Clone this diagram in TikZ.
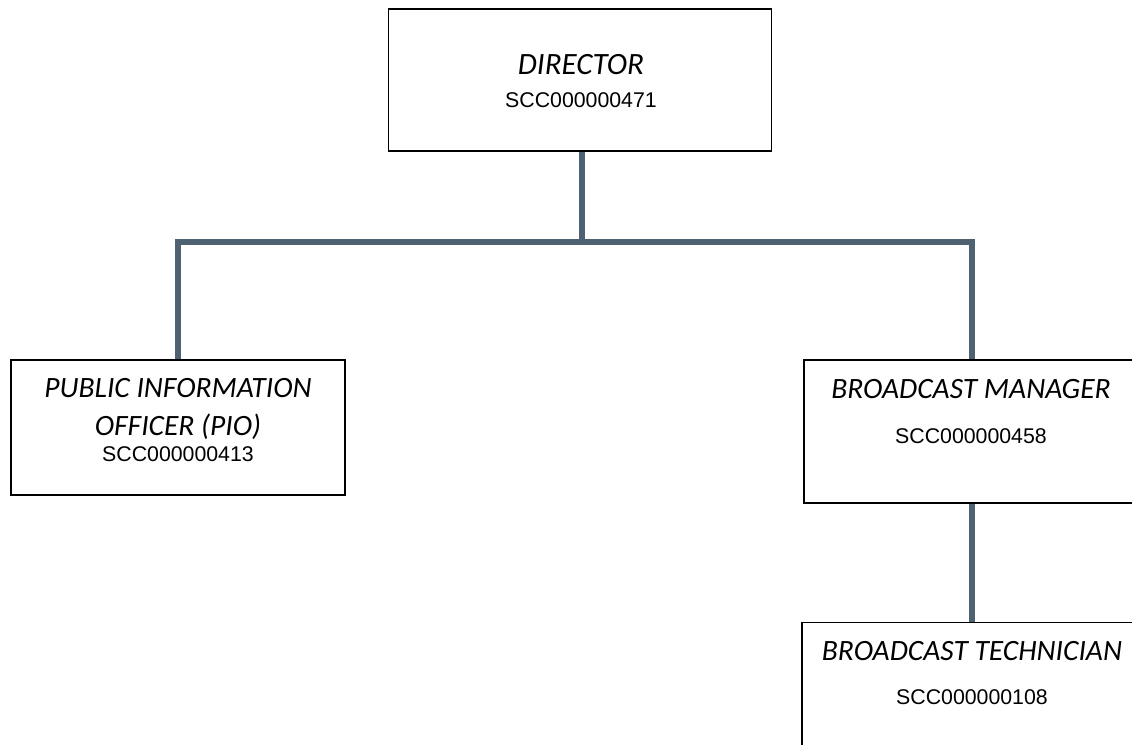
\documentclass[tikz,border=0pt]{standalone}
\usepackage{fontspec}
\setmainfont{Liberation Sans}
\newfontfamily\titlefont{Carlito}
\definecolor{conn}{RGB}{79,98,114}
\tikzset{
  box/.style={draw=black, line width=1.6pt, fill=white, rectangle, inner sep=0pt},
  ttl/.style={anchor=base, inner sep=0pt, font=\titlefont\itshape\fontsize{29.5}{34}\selectfont},
  code/.style={anchor=base, inner sep=0pt, font=\fontsize{21.3}{25}\selectfont},
  link/.style={draw=conn, line width=6pt}
}
\begin{document}
\begin{tikzpicture}[x=1pt,y=-1pt]
\useasboundingbox (0,0) rectangle (1132,744);
\clip (0,0) rectangle (1132,744);
\fill[white] (0,0) rectangle (1132,744);
% boxes
\node[box, minimum width=383pt, minimum height=142pt] (dir) at (580,80) {};
\node[box, minimum width=334pt, minimum height=135pt] (pio) at (178,427.5) {};
\node[box, minimum width=336pt, minimum height=143pt] (bm) at (972,431.5) {};
\node[box, minimum width=338pt, minimum height=143pt] (bt) at (971,694) {};
% connectors
\coordinate (bar) at (582,242);
\draw[link] (dir.south -| bar) -- (bar);
\draw[link] (pio.north) |- (bar) -| (bm.north);
\draw[link] (bm.south) -- (bm.south |- bt.north);
% texts
\node[ttl, font=\titlefont\itshape\fontsize{31}{34}\selectfont] (dirt) at (581,74) {DIRECTOR};
\node[code] (dirc) at (581,107) {SCC000000471};
\node[ttl] (piot1) at (178,397) {PUBLIC INFORMATION};
\node[ttl] (piot2) at (178,435) {OFFICER (PIO)};
\node[code] (pioc) at (178,461) {SCC000000413};
\node[ttl] (bmt) at (971,398) {BROADCAST MANAGER};
\node[code] (bmc) at (971,443) {SCC000000458};
\node[ttl] (btt) at (972,660) {BROADCAST TECHNICIAN};
\node[code] (btc) at (972,704) {SCC000000108};
\end{tikzpicture}
\end{document}
